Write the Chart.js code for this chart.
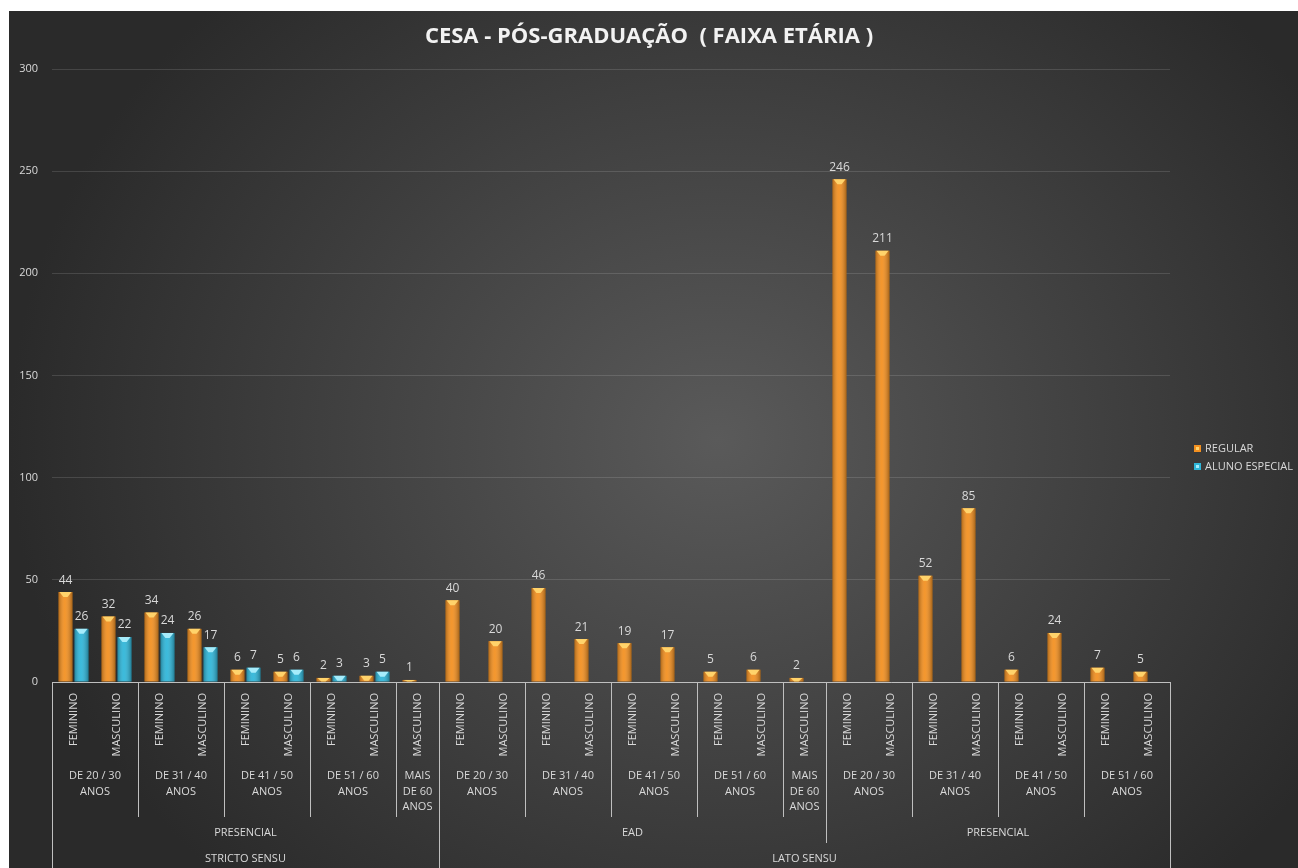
<!DOCTYPE html>
<html>
<head>
<meta charset="utf-8">
<title>CESA - Pós-Graduação (Faixa Etária)</title>
<script src="https://cdn.jsdelivr.net/npm/chart.js@4/dist/chart.umd.min.js"></script>
<style>
    body { margin: 0; background: #ffffff; }
    #panel {
        position: absolute; left: 9px; top: 11px; width: 1289px; height: 857px;
        background: radial-gradient(ellipse 55% 72% at 55% 50%, #5a5a5a 0%, #2a2a2a 100%);
    }
    #wrap { position: absolute; left: 0; top: 0; width: 1298px; height: 868px; }
</style>
</head>
<body>
<div id="panel"></div>
<div id="wrap"><canvas id="chart"></canvas></div>
<script>
// Chart data
const genders = [
    'FEMININO', 'MASCULINO', 'FEMININO', 'MASCULINO', 'FEMININO', 'MASCULINO', 'FEMININO', 'MASCULINO', 'MASCULINO',
    'FEMININO', 'MASCULINO', 'FEMININO', 'MASCULINO', 'FEMININO', 'MASCULINO', 'FEMININO', 'MASCULINO', 'MASCULINO',
    'FEMININO', 'MASCULINO', 'FEMININO', 'MASCULINO', 'FEMININO', 'MASCULINO', 'FEMININO', 'MASCULINO'
];
const ageGroups = [
    'DE 20 / 30\nANOS', 'DE 20 / 30\nANOS', 'DE 31 / 40\nANOS', 'DE 31 / 40\nANOS', 'DE 41 / 50\nANOS', 'DE 41 / 50\nANOS',
    'DE 51 / 60\nANOS', 'DE 51 / 60\nANOS', 'MAIS\nDE 60\nANOS',
    'DE 20 / 30\nANOS', 'DE 20 / 30\nANOS', 'DE 31 / 40\nANOS', 'DE 31 / 40\nANOS', 'DE 41 / 50\nANOS', 'DE 41 / 50\nANOS',
    'DE 51 / 60\nANOS', 'DE 51 / 60\nANOS', 'MAIS\nDE 60\nANOS',
    'DE 20 / 30\nANOS', 'DE 20 / 30\nANOS', 'DE 31 / 40\nANOS', 'DE 31 / 40\nANOS', 'DE 41 / 50\nANOS', 'DE 41 / 50\nANOS',
    'DE 51 / 60\nANOS', 'DE 51 / 60\nANOS'
];
const modalities = [
    'PRESENCIAL', 'PRESENCIAL', 'PRESENCIAL', 'PRESENCIAL', 'PRESENCIAL', 'PRESENCIAL', 'PRESENCIAL', 'PRESENCIAL', 'PRESENCIAL',
    'EAD', 'EAD', 'EAD', 'EAD', 'EAD', 'EAD', 'EAD', 'EAD', 'EAD',
    'PRESENCIAL', 'PRESENCIAL', 'PRESENCIAL', 'PRESENCIAL', 'PRESENCIAL', 'PRESENCIAL', 'PRESENCIAL', 'PRESENCIAL'
];
const sensus = [
    'STRICTO SENSU', 'STRICTO SENSU', 'STRICTO SENSU', 'STRICTO SENSU', 'STRICTO SENSU', 'STRICTO SENSU', 'STRICTO SENSU', 'STRICTO SENSU', 'STRICTO SENSU',
    'LATO SENSU', 'LATO SENSU', 'LATO SENSU', 'LATO SENSU', 'LATO SENSU', 'LATO SENSU', 'LATO SENSU', 'LATO SENSU', 'LATO SENSU',
    'LATO SENSU', 'LATO SENSU', 'LATO SENSU', 'LATO SENSU', 'LATO SENSU', 'LATO SENSU', 'LATO SENSU', 'LATO SENSU'
];
const regular = [44, 32, 34, 26, 6, 5, 2, 3, 1, 40, 20, 46, 21, 19, 17, 5, 6, 2, 246, 211, 52, 85, 6, 24, 7, 5];
const alunoEspecial = [26, 22, 24, 17, 7, 6, 3, 5, null,
    null, null, null, null, null, null, null, null, null,
    null, null, null, null, null, null, null, null];
const yTicks = [0, 50, 100, 150, 200, 250, 300];

const FONT = "'Open Sans', 'DejaVu Sans', sans-serif";
const textColor = '#d9d9d9';
const lineColor = '#bfbfbf';
const capColors = ['#ffd36b', '#a6ecfb'];

// Group consecutive categories that share the same key
function spans(keyFn, labelFn) {
    const out = [];
    genders.forEach((g, i) => {
        const key = keyFn(i);
        const last = out[out.length - 1];
        if (last && last.key === key) last.end = i;
        else out.push({ key: key, start: i, end: i, label: labelFn(i) });
    });
    return out;
}

// Multi-level category axis drawn under the x scale, plus the legend
const multiLevelAxis = {
    id: 'multiLevelAxis',
    afterDraw(chart) {
        const ctx = chart.ctx;
        const x = chart.scales.x;
        const top = x.top;
        const half = (x.getPixelForValue(1) - x.getPixelForValue(0)) / 2;
        ctx.save();
        ctx.fillStyle = textColor;
        ctx.font = '11px ' + FONT;

        // level 1: rotated gender labels
        genders.forEach((g, i) => {
            ctx.save();
            ctx.translate(x.getPixelForValue(i), top + 11);
            ctx.rotate(-Math.PI / 2);
            ctx.textAlign = 'right';
            ctx.textBaseline = 'middle';
            ctx.fillText(g, 0, 0);
            ctx.restore();
        });

        const levels = [
            { groups: spans(i => sensus[i] + modalities[i] + ageGroups[i], i => ageGroups[i]), textY: top + 94, lineEnd: top + 135 },
            { groups: spans(i => sensus[i] + modalities[i], i => modalities[i]), textY: top + 151, lineEnd: top + 161 },
            { groups: spans(i => sensus[i], i => sensus[i]), textY: top + 177, lineEnd: chart.height }
        ];
        ctx.textAlign = 'center';
        ctx.textBaseline = 'middle';
        ctx.strokeStyle = lineColor;
        ctx.lineWidth = 1;
        levels.forEach(lv => {
            lv.groups.forEach(gr => {
                const l = x.getPixelForValue(gr.start) - half;
                const r = x.getPixelForValue(gr.end) + half;
                const cx = (l + r) / 2;
                gr.label.split('\n').forEach((line, k) => ctx.fillText(line, cx, lv.textY + k * 15.5));
                [l, r].forEach(px => {
                    ctx.beginPath();
                    ctx.moveTo(Math.round(px) + 0.5, top);
                    ctx.lineTo(Math.round(px) + 0.5, lv.lineEnd);
                    ctx.stroke();
                });
            });
        });

        // legend
        const lx = chart.chartArea.right + 24;
        let ly = 449;
        ctx.textAlign = 'left';
        chart.data.datasets.forEach((ds, di) => {
            ctx.fillStyle = ds.backgroundColor;
            ctx.fillRect(lx, ly - 4, 7, 7);
            ctx.fillStyle = capColors[di];
            ctx.fillRect(lx + 2, ly - 2, 3, 3);
            ctx.fillStyle = textColor;
            ctx.fillText(ds.label, lx + 11, ly);
            ly += 18;
        });
        ctx.restore();
    }
};

// Shading, top cap and value label on each bar
const barDecor = {
    id: 'barDecor',
    afterDatasetsDraw(chart) {
        const ctx = chart.ctx;
        ctx.save();
        ctx.font = '12px ' + FONT;
        ctx.textAlign = 'center';
        ctx.textBaseline = 'bottom';
        chart.data.datasets.forEach((ds, di) => {
            const meta = chart.getDatasetMeta(di);
            meta.data.forEach((bar, i) => {
                const v = ds.data[i];
                if (v == null) return;
                const p = bar.getProps(['x', 'y', 'base', 'width'], true);
                const l = p.x - p.width / 2;
                const h = p.base - p.y;
                const g = ctx.createLinearGradient(l, 0, l + p.width, 0);
                g.addColorStop(0, 'rgba(0,0,0,0.28)');
                g.addColorStop(0.45, 'rgba(255,255,255,0.06)');
                g.addColorStop(1, 'rgba(0,0,0,0.32)');
                ctx.fillStyle = g;
                ctx.fillRect(l, p.y, p.width, h);
                const capH = Math.min(5, h);
                ctx.fillStyle = capColors[di];
                ctx.beginPath();
                ctx.moveTo(l + 1, p.y);
                ctx.lineTo(l + p.width - 1, p.y);
                ctx.lineTo(p.x + p.width * 0.15, p.y + capH);
                ctx.lineTo(p.x - p.width * 0.15, p.y + capH);
                ctx.closePath();
                ctx.fill();
                ctx.fillStyle = textColor;
                ctx.fillText(v, p.x, p.y - 6);
            });
        });
        ctx.restore();
    }
};

new Chart(document.getElementById('chart'), {
    type: 'bar',
    data: {
        labels: genders,
        datasets: [{
            label: 'REGULAR',
            data: regular,
            backgroundColor: '#f39020',
            categoryPercentage: 0.745,
            barPercentage: 0.875
        }, {
            label: 'ALUNO ESPECIAL',
            data: alunoEspecial,
            backgroundColor: '#2fb6d9',
            categoryPercentage: 0.745,
            barPercentage: 0.875
        }]
    },
    options: {
        responsive: true,
        maintainAspectRatio: false,
        animation: false,
        layout: { padding: 0 },
        plugins: {
            legend: { display: false },
            tooltip: { enabled: false },
            title: {
                display: true,
                text: 'CESA - PÓS-GRADUAÇÃO  ( FAIXA ETÁRIA )',
                color: '#f2f2f2',
                font: { family: FONT, size: 22, weight: 'bold' },
                padding: { top: 24, bottom: 18.6 }
            }
        },
        scales: {
            x: {
                grid: { display: false },
                border: { display: true, color: lineColor },
                ticks: { display: false },
                afterFit(scale) { scale.height = 186; }
            },
            y: {
                min: 0,
                max: 300,
                afterBuildTicks(scale) { scale.ticks = yTicks.map(v => ({ value: v })); },
                grid: { color: 'rgba(255,255,255,0.13)', drawTicks: false },
                border: { display: false },
                ticks: { color: textColor, font: { family: FONT, size: 11 }, padding: 14 },
                afterFit(scale) { scale.width = 52; }
            },
            // empty right-hand box that leaves room for the legend
            legendSpace: {
                type: 'linear',
                position: 'right',
                grid: { display: false },
                border: { display: false },
                ticks: { display: false },
                afterFit(scale) { scale.width = 128; }
            }
        }
    },
    plugins: [barDecor, multiLevelAxis]
});
</script>
</body>
</html>
